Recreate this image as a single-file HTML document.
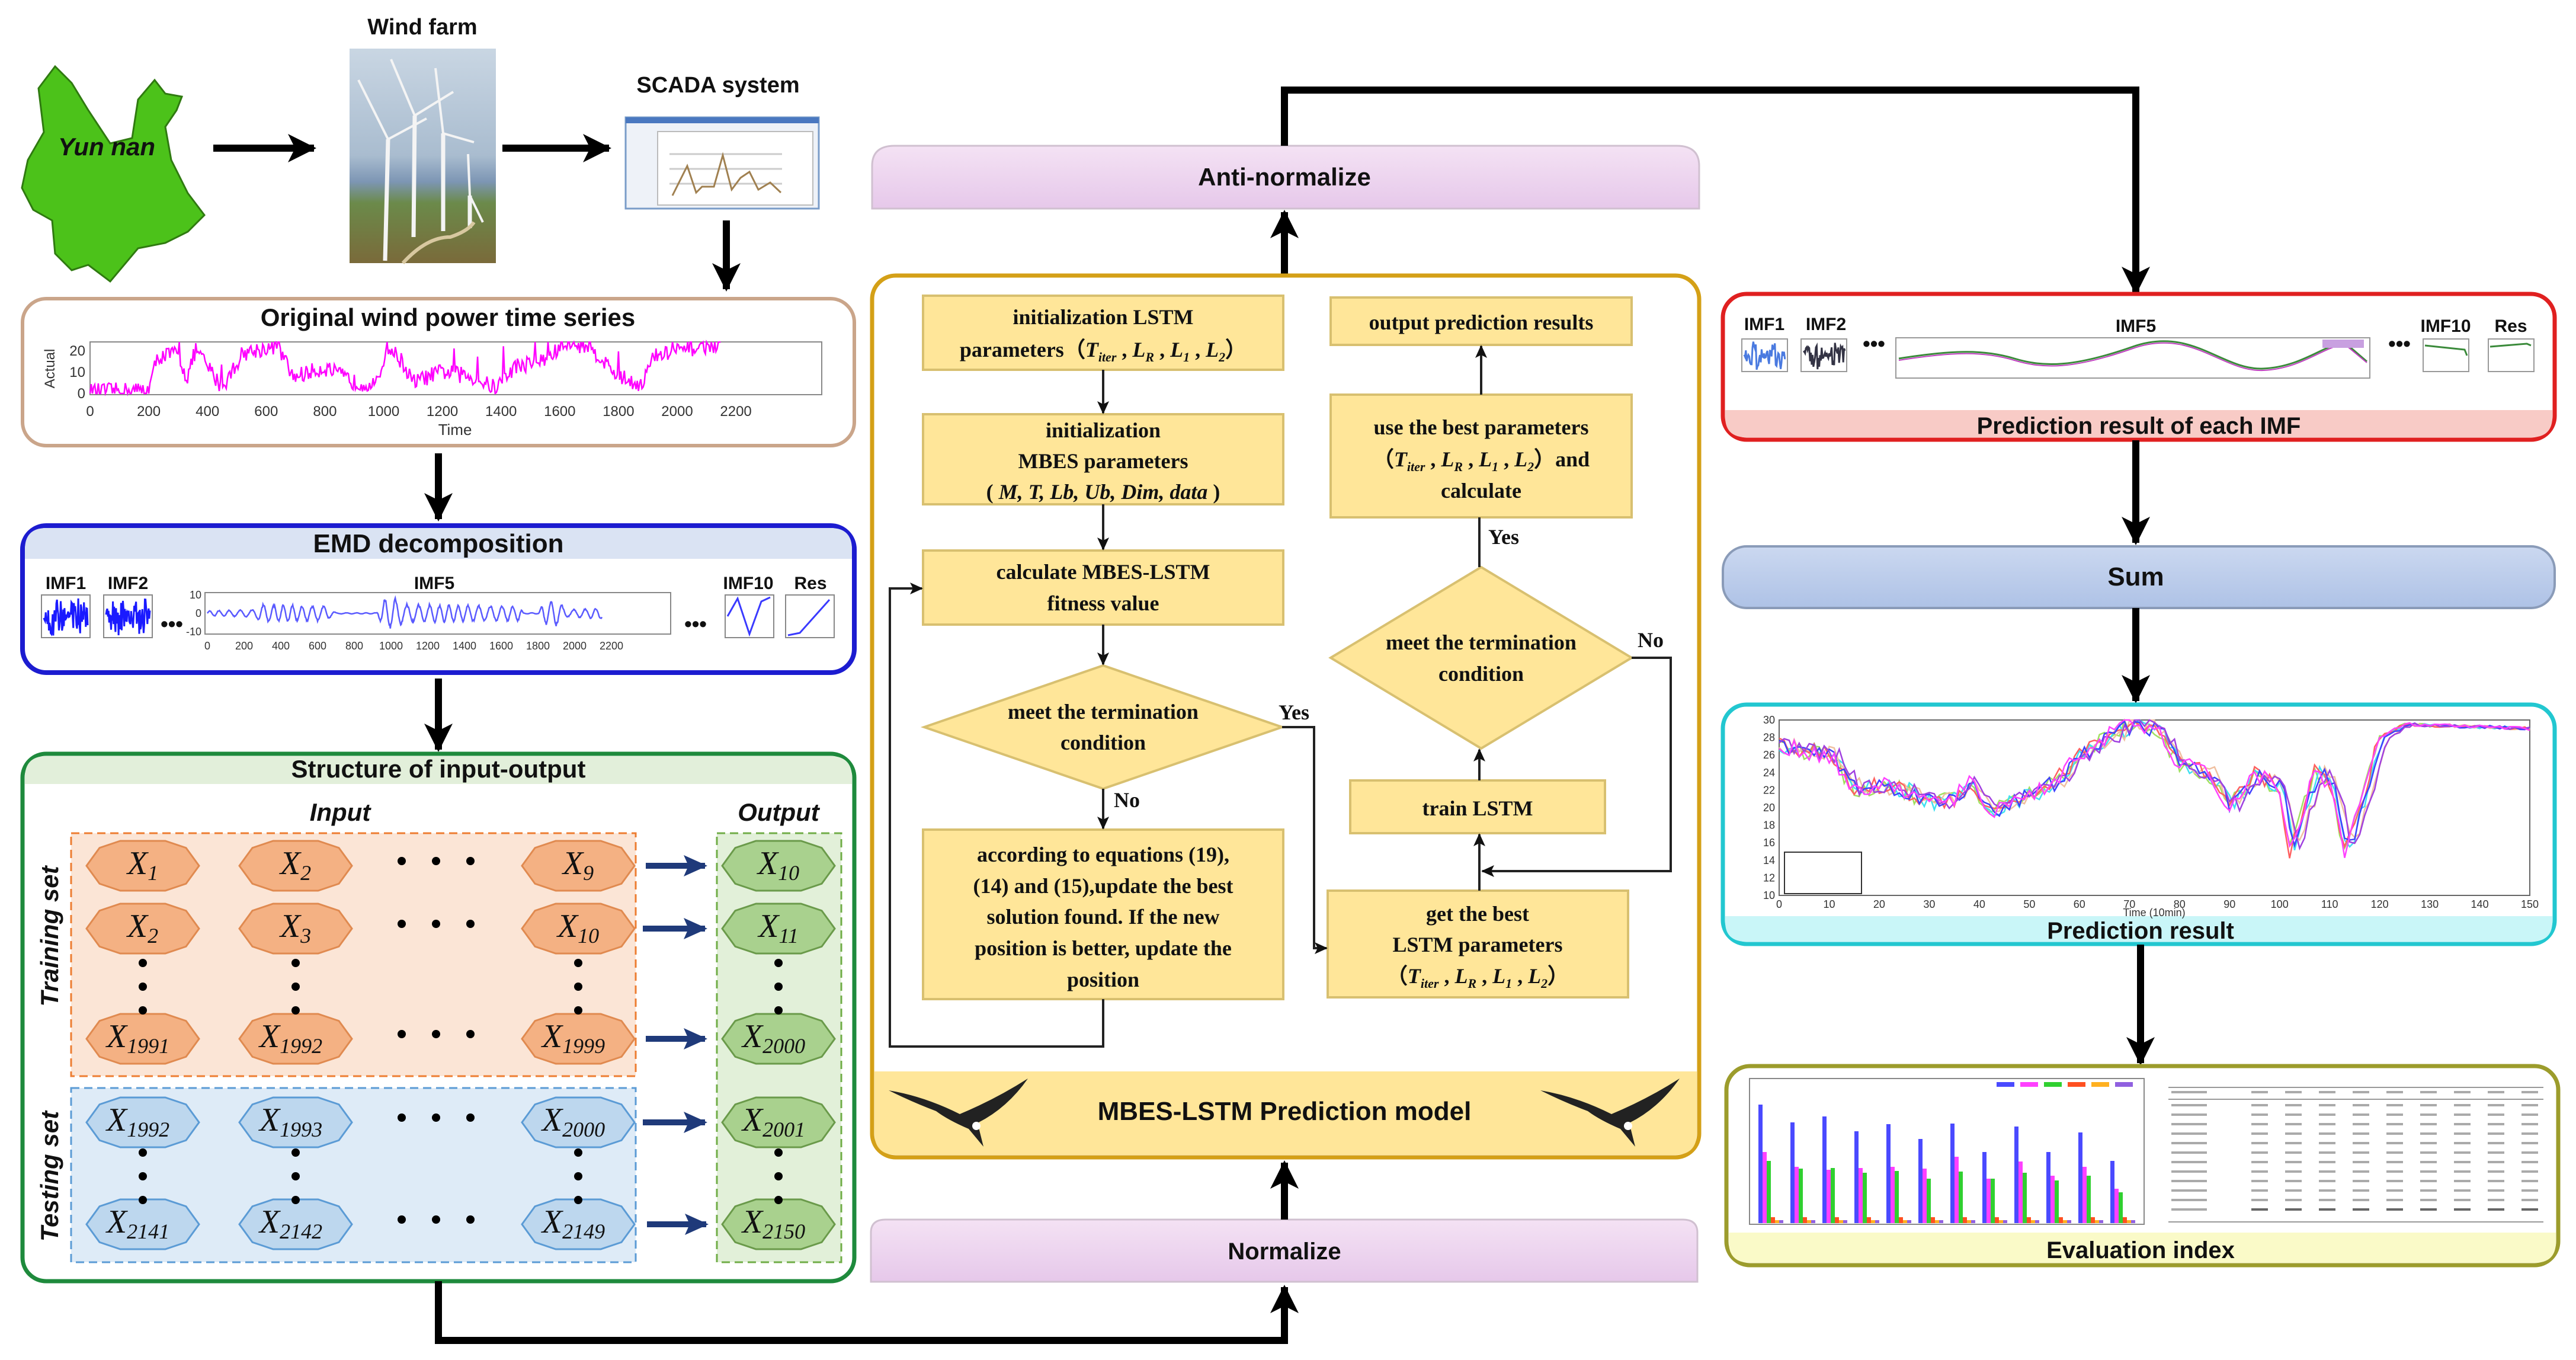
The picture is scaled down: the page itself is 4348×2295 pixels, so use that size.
<!DOCTYPE html>
<html><head><meta charset="utf-8"><style>
html,body{margin:0;padding:0;background:#fff;}
svg{display:block;}
.t{font-family:"Liberation Sans",sans-serif;font-weight:bold;fill:#111;}
.f{font-family:"Liberation Serif",serif;font-weight:bold;fill:#111;font-size:36px;}
.x{font-family:"Liberation Serif",serif;font-style:italic;fill:#111;}
.ax{font-family:"Liberation Sans",sans-serif;fill:#333;}
</style></head><body>
<svg id="s" width="4348" height="2295" viewBox="0 0 4348 2295" xmlns="http://www.w3.org/2000/svg">
<defs>
<marker id="A" markerUnits="userSpaceOnUse" markerWidth="60" markerHeight="60" refX="44" refY="24" orient="auto"><path d="M0,0 L48,24 L0,48 L12,24 Z" fill="#000"/></marker>
<marker id="a" markerUnits="userSpaceOnUse" markerWidth="24" markerHeight="24" refX="20" refY="10" orient="auto"><path d="M0,0 L22,10 L0,20 L5,10 Z" fill="#111"/></marker>
<marker id="B" markerUnits="userSpaceOnUse" markerWidth="50" markerHeight="50" refX="36" refY="18" orient="auto"><path d="M0,0 L40,18 L0,36 L8,18 Z" fill="#1f3a7a"/></marker>
<linearGradient id="sky" x1="0" y1="0" x2="0" y2="1"><stop offset="0" stop-color="#c9d6e3"/><stop offset="0.5" stop-color="#a9bccf"/><stop offset="0.62" stop-color="#7d96b4"/><stop offset="0.72" stop-color="#6b8a4a"/><stop offset="1" stop-color="#7a6a3a"/></linearGradient>
<linearGradient id="pk" x1="0" y1="0" x2="0" y2="1"><stop offset="0" stop-color="#f4e2f4"/><stop offset="1" stop-color="#e6c8ea"/></linearGradient>
<linearGradient id="bl" x1="0" y1="0" x2="0" y2="1"><stop offset="0" stop-color="#cbd8f0"/><stop offset="1" stop-color="#aec2e6"/></linearGradient>
</defs>

<polygon fill="#4cc21a" stroke="#2f7a10" stroke-width="3" points="93,112 121,140 149,186 186,242 223,233 233,168 261,135 279,158 307,163 298,186 279,214 289,270 317,326 345,363 317,391 279,410 233,419 186,475 149,447 121,456 93,428 88,372 56,354 37,317 47,270 74,223 65,149"/>
<text class="t" x="180" y="262" font-size="42" text-anchor="middle" font-style="italic">Yun nan</text>
<text class="t" x="713" y="58" font-size="38" text-anchor="middle">Wind farm</text>
<rect x="590" y="82" width="247" height="362" fill="url(#sky)"/>
<g stroke="#f4f4f4" stroke-width="7"><line x1="650" y1="440" x2="655" y2="235"/><line x1="698" y1="400" x2="700" y2="195"/><line x1="748" y1="390" x2="748" y2="225"/><line x1="793" y1="385" x2="793" y2="330"/></g>
<g stroke="#f4f4f4" stroke-width="4"><line x1="655" y1="235" x2="605" y2="135"/><line x1="655" y1="235" x2="720" y2="200"/><line x1="700" y1="195" x2="660" y2="100"/><line x1="700" y1="195" x2="765" y2="155"/><line x1="748" y1="225" x2="735" y2="115"/><line x1="748" y1="225" x2="800" y2="240"/><line x1="793" y1="330" x2="790" y2="260"/><line x1="793" y1="330" x2="815" y2="375"/></g>
<path d="M680,444 Q720,400 760,400 Q790,390 800,375" stroke="#d8c8a0" stroke-width="6" fill="none"/>
<text class="t" x="1212" y="156" font-size="38" text-anchor="middle">SCADA system</text>
<rect x="1056" y="198" width="326" height="154" fill="#eef2f8" stroke="#7a9cc8" stroke-width="3"/>
<rect x="1056" y="198" width="326" height="10" fill="#4a78c0"/>
<rect x="1110" y="222" width="262" height="124" fill="#fff" stroke="#bbb" stroke-width="2"/>
<g stroke="#ccc" stroke-width="3"><line x1="1130" y1="260" x2="1320" y2="260"/><line x1="1130" y1="285" x2="1320" y2="285"/><line x1="1130" y1="310" x2="1320" y2="310"/></g>
<polyline fill="none" stroke="#a08050" stroke-width="3" points="1135,330 1160,280 1175,325 1185,315 1205,315 1220,262 1235,320 1250,300 1265,290 1280,320 1300,308 1318,325"/>
<line x1="360" y1="250" x2="530" y2="250" stroke="#000" stroke-width="12" marker-end="url(#A)"/>
<line x1="848" y1="250" x2="1028" y2="250" stroke="#000" stroke-width="12" marker-end="url(#A)"/>
<line x1="1226" y1="372" x2="1226" y2="488" stroke="#000" stroke-width="12" marker-end="url(#A)"/>

<rect x="38" y="504" width="1404" height="248" rx="40" fill="#fff" stroke="#caa58a" stroke-width="6"/>
<text class="t" x="756" y="550" font-size="42" text-anchor="middle">Original wind power time series</text>
<rect x="152" y="577" width="1235" height="89" fill="#fff" stroke="#888" stroke-width="2"/>
<path id="orig" fill="none" stroke="#ff00ff" stroke-width="2.5"/>
<g class="ax" font-size="24" text-anchor="middle" id="origax"></g>
<text class="ax" x="768" y="734" font-size="26" text-anchor="middle">Time</text>
<text class="ax" x="0" y="0" font-size="24" text-anchor="middle" transform="translate(92,622) rotate(-90)">Actual</text>
<g class="ax" font-size="24" text-anchor="end"><text x="144" y="600">20</text><text x="144" y="636">10</text><text x="144" y="672">0</text></g>
<line x1="740" y1="765" x2="740" y2="876" stroke="#000" stroke-width="12" marker-end="url(#A)"/>

<rect x="38" y="887" width="1404" height="248" rx="40" fill="#fff" stroke="#1c1cd0" stroke-width="8"/>
<path d="M42,943 L42,927 Q42,891 78,891 L1402,891 Q1438,891 1438,927 L1438,943 Z" fill="#dae3f3"/>
<text class="t" x="740" y="932" font-size="44" text-anchor="middle">EMD decomposition</text>
<g class="t" font-size="30" text-anchor="middle"><text x="111" y="994">IMF1</text><text x="216" y="994">IMF2</text><text x="733" y="994">IMF5</text><text x="1263" y="994">IMF10</text><text x="1368" y="994">Res</text></g>
<text class="t" x="290" y="1065" font-size="36" text-anchor="middle">•••</text>
<text class="t" x="1174" y="1065" font-size="36" text-anchor="middle">•••</text>
<rect x="70" y="1004" width="82" height="72" fill="#fff" stroke="#888" stroke-width="2"/>
<rect x="175" y="1004" width="82" height="72" fill="#fff" stroke="#888" stroke-width="2"/>
<rect x="346" y="1000" width="786" height="70" fill="#fff" stroke="#888" stroke-width="2"/>
<rect x="1224" y="1004" width="82" height="72" fill="#fff" stroke="#888" stroke-width="2"/>
<rect x="1326" y="1004" width="82" height="72" fill="#fff" stroke="#888" stroke-width="2"/>
<path id="imf1" fill="none" stroke="#1a1aff" stroke-width="3"/>
<path id="imf2" fill="none" stroke="#1a1aff" stroke-width="3"/>
<path id="imf5" fill="none" stroke="#5a5aff" stroke-width="2.5"/>
<polyline fill="none" stroke="#3a3aff" stroke-width="3" points="1228,1040 1245,1010 1265,1070 1285,1015 1300,1008"/>
<polyline fill="none" stroke="#3a3aff" stroke-width="3" points="1330,1072 1350,1068 1400,1012"/>
<g class="ax" font-size="18" text-anchor="middle" id="imfax"></g>
<g class="ax" font-size="18" text-anchor="end"><text x="340" y="1010">10</text><text x="340" y="1041">0</text><text x="340" y="1072">-10</text></g>
<line x1="740" y1="1145" x2="740" y2="1265" stroke="#000" stroke-width="12" marker-end="url(#A)"/>

<rect x="38" y="1272" width="1404" height="890" rx="40" fill="#fff" stroke="#1e8a3c" stroke-width="7"/>
<path d="M42,1323 L42,1312 Q42,1276 78,1276 L1402,1276 Q1438,1276 1438,1312 L1438,1323 Z" fill="#e2efda"/>
<text class="t" x="740" y="1312" font-size="42" text-anchor="middle">Structure of input-output</text>
<text class="t" x="574" y="1385" font-size="42" text-anchor="middle" font-style="italic">Input</text>
<text class="t" x="1314" y="1385" font-size="42" text-anchor="middle" font-style="italic">Output</text>
<rect x="120" y="1406" width="953" height="410" fill="#fbe5d6" stroke="#ed7d31" stroke-width="3" stroke-dasharray="14,8"/>
<rect x="120" y="1836" width="953" height="294" fill="#deebf7" stroke="#5b9bd5" stroke-width="3" stroke-dasharray="14,8"/>
<rect x="1210" y="1406" width="210" height="724" fill="#e2f0d9" stroke="#70ad47" stroke-width="3" stroke-dasharray="14,8"/>
<text class="t" x="0" y="0" font-size="42" font-style="italic" text-anchor="middle" transform="translate(98,1580) rotate(-90)">Training set</text>
<text class="t" x="0" y="0" font-size="42" font-style="italic" text-anchor="middle" transform="translate(98,1985) rotate(-90)">Testing set</text>
<g id="nodes"></g>
<g stroke="#1f3a7a" stroke-width="10">
<line x1="1090" y1="1461" x2="1190" y2="1461" marker-end="url(#B)"/>
<line x1="1085" y1="1567" x2="1190" y2="1567" marker-end="url(#B)"/>
<line x1="1090" y1="1753" x2="1190" y2="1753" marker-end="url(#B)"/>
<line x1="1085" y1="1894" x2="1190" y2="1894" marker-end="url(#B)"/>
<line x1="1092" y1="2066" x2="1192" y2="2066" marker-end="url(#B)"/>
</g>
<polyline points="740,2162 740,2262 2168,2262 2168,2172" fill="none" stroke="#000" stroke-width="12" marker-end="url(#A)"/>

<path d="M1470,2163 L1470,2080 Q1470,2058 1495,2058 L2840,2058 Q2865,2058 2865,2080 L2865,2163 Z" fill="url(#pk)" stroke="#d0c0d0" stroke-width="3"/>
<text class="t" x="2168" y="2125" font-size="40" text-anchor="middle">Normalize</text>
<line x1="2168" y1="2058" x2="2168" y2="1962" stroke="#000" stroke-width="12" marker-end="url(#A)"/>
<path d="M1472,352 L1472,280 Q1472,246 1510,246 L2830,246 Q2868,246 2868,280 L2868,352 Z" fill="url(#pk)" stroke="#d0c0d0" stroke-width="3"/>
<text class="t" x="2168" y="313" font-size="42" text-anchor="middle">Anti-normalize</text>
<line x1="2168" y1="463" x2="2168" y2="358" stroke="#000" stroke-width="12" marker-end="url(#A)"/>
<polyline points="2168,246 2168,152 3605,152 3605,494" fill="none" stroke="#000" stroke-width="12" marker-end="url(#A)"/>

<rect x="1472" y="465" width="1396" height="1488" rx="40" fill="#fff" stroke="#d4a017" stroke-width="7"/>
<path d="M1476,1808 L2864,1808 L2864,1912 Q2864,1949 2826,1949 L1514,1949 Q1476,1949 1476,1912 Z" fill="#ffe699"/>
<text class="t" x="2168" y="1890" font-size="44" text-anchor="middle">MBES-LSTM Prediction model</text>
<g fill="#222">
<path d="M1500,1840 Q1560,1850 1620,1880 Q1680,1855 1735,1820 Q1700,1870 1650,1895 L1660,1935 L1635,1905 Q1600,1890 1580,1875 Q1540,1860 1500,1840 Z"/>
<path d="M2600,1840 Q2660,1850 2720,1880 Q2780,1855 2835,1820 Q2800,1870 2750,1895 L2760,1935 L2735,1905 Q2700,1890 2680,1875 Q2640,1860 2600,1840 Z"/>
</g>
<g fill="#fff"><circle cx="1648" cy="1900" r="7"/><circle cx="2748" cy="1900" r="7"/></g>

<g fill="#ffe699" stroke="#d8c070" stroke-width="4">
<rect x="1558" y="499" width="608" height="125"/>
<rect x="1558" y="699" width="608" height="152"/>
<rect x="1558" y="929" width="608" height="125"/>
<polygon points="1560,1227 1862,1123 2164,1227 1862,1331"/>
<rect x="1558" y="1400" width="608" height="286"/>
<rect x="2246" y="502" width="508" height="80"/>
<rect x="2246" y="666" width="508" height="207"/>
<polygon points="2246,1110 2500,957 2754,1110 2500,1263"/>
<rect x="2279" y="1317" width="430" height="89"/>
<rect x="2241" y="1503" width="507" height="180"/>
</g>
<g stroke="#222" stroke-width="4" fill="none">
<line x1="1862" y1="624" x2="1862" y2="697" marker-end="url(#a)"/>
<line x1="1862" y1="851" x2="1862" y2="927" marker-end="url(#a)"/>
<line x1="1862" y1="1054" x2="1862" y2="1121" marker-end="url(#a)"/>
<line x1="1862" y1="1331" x2="1862" y2="1398" marker-end="url(#a)"/>
<polyline points="1862,1686 1862,1766 1502,1766 1502,993 1556,993" marker-end="url(#a)"/>
<polyline points="2164,1227 2218,1227 2218,1600 2239,1600" marker-end="url(#a)"/>
<line x1="2500" y1="666" x2="2500" y2="584" marker-end="url(#a)"/>
<line x1="2497" y1="957" x2="2497" y2="873"/>
<line x1="2497" y1="1317" x2="2497" y2="1265" marker-end="url(#a)"/>
<line x1="2497" y1="1503" x2="2497" y2="1408" marker-end="url(#a)"/>
<polyline points="2754,1110 2820,1110 2820,1470 2502,1470" marker-end="url(#a)"/>
</g>
<g class="f" text-anchor="middle">
<text x="1862" y="547">initialization  LSTM</text>
<text x="1862" y="602">parameters（<tspan class="x">T</tspan><tspan class="x" font-size="22" dy="8">iter</tspan><tspan dy="-8"> , </tspan><tspan class="x">L</tspan><tspan class="x" font-size="22" dy="8">R</tspan><tspan dy="-8"> , </tspan><tspan class="x">L</tspan><tspan class="x" font-size="22" dy="8">1</tspan><tspan dy="-8"> , </tspan><tspan class="x">L</tspan><tspan class="x" font-size="22" dy="8">2</tspan><tspan dy="-8">）</tspan></text>
<text x="1862" y="738">initialization</text>
<text x="1862" y="790">MBES parameters</text>
<text x="1862" y="842">( <tspan class="x" font-weight="bold">M, T, Lb, Ub, Dim, data</tspan> )</text>
<text x="1862" y="977">calculate MBES-LSTM</text>
<text x="1862" y="1030">fitness value</text>
<text x="1862" y="1213">meet the termination</text>
<text x="1862" y="1265">condition</text>
<text x="1862" y="1454">according to equations (19),</text>
<text x="1862" y="1507">(14) and (15),update  the best</text>
<text x="1862" y="1559">solution found. If the new</text>
<text x="1862" y="1612">position is better, update the</text>
<text x="1862" y="1665">position</text>
<text x="2500" y="556">output prediction results</text>
<text x="2500" y="733">use the best parameters</text>
<text x="2500" y="787">（<tspan class="x">T</tspan><tspan class="x" font-size="22" dy="8">iter</tspan><tspan dy="-8"> , </tspan><tspan class="x">L</tspan><tspan class="x" font-size="22" dy="8">R</tspan><tspan dy="-8"> , </tspan><tspan class="x">L</tspan><tspan class="x" font-size="22" dy="8">1</tspan><tspan dy="-8"> , </tspan><tspan class="x">L</tspan><tspan class="x" font-size="22" dy="8">2</tspan><tspan dy="-8">）and</tspan></text>
<text x="2500" y="840">calculate</text>
<text x="2500" y="1096">meet the termination</text>
<text x="2500" y="1149">condition</text>
<text x="2494" y="1376">train LSTM</text>
<text x="2494" y="1554">get the best</text>
<text x="2494" y="1606">LSTM parameters</text>
<text x="2494" y="1659">（<tspan class="x">T</tspan><tspan class="x" font-size="22" dy="8">iter</tspan><tspan dy="-8"> , </tspan><tspan class="x">L</tspan><tspan class="x" font-size="22" dy="8">R</tspan><tspan dy="-8"> , </tspan><tspan class="x">L</tspan><tspan class="x" font-size="22" dy="8">1</tspan><tspan dy="-8"> , </tspan><tspan class="x">L</tspan><tspan class="x" font-size="22" dy="8">2</tspan><tspan dy="-8">）</tspan></text>
</g>
<g class="f" font-size="34">
<text x="1880" y="1362">No</text><text x="2158" y="1214">Yes</text><text x="2512" y="918">Yes</text><text x="2764" y="1092">No</text>
</g>

<rect x="2908" y="496" width="1404" height="246" rx="40" fill="#fff" stroke="#e02020" stroke-width="7"/>
<path d="M2912,692 L4308,692 L4308,704 Q4308,738 4272,738 L2948,738 Q2912,738 2912,704 Z" fill="#f8cbc6"/>
<text class="t" x="3610" y="732" font-size="40" text-anchor="middle">Prediction result of each IMF</text>
<g class="t" font-size="30" text-anchor="middle"><text x="2978" y="557">IMF1</text><text x="3082" y="557">IMF2</text><text x="3605" y="560">IMF5</text><text x="4128" y="560">IMF10</text><text x="4238" y="560">Res</text></g>
<text class="t" x="3163" y="592" font-size="36" text-anchor="middle">•••</text>
<text class="t" x="4050" y="592" font-size="36" text-anchor="middle">•••</text>
<rect x="2940" y="572" width="77" height="55" fill="#fff" stroke="#999" stroke-width="2"/>
<rect x="3040" y="572" width="77" height="55" fill="#fff" stroke="#999" stroke-width="2"/>
<rect x="3200" y="570" width="800" height="68" fill="#fff" stroke="#999" stroke-width="2"/>
<rect x="4090" y="572" width="77" height="55" fill="#fff" stroke="#999" stroke-width="2"/>
<rect x="4200" y="572" width="77" height="55" fill="#fff" stroke="#999" stroke-width="2"/>
<path id="p1" fill="none" stroke="#4a7ae0" stroke-width="3"/>
<path id="p2" fill="none" stroke="#334" stroke-width="3"/>
<path d="M3205,605 C3300,590 3350,590 3400,605 S3500,620 3600,585 S3750,625 3820,622 S3930,575 3960,580 L3995,610" fill="none" stroke="#3a8a3a" stroke-width="3"/>
<path d="M3205,608 C3300,593 3350,593 3400,608 S3500,623 3600,588 S3750,628 3820,625 S3930,578 3960,583 L3995,612" fill="none" stroke="#c040c0" stroke-width="2"/>
<rect x="3920" y="573" width="70" height="14" fill="#c8a0e0"/>
<polyline points="4093,583 4160,590 4164,600" fill="none" stroke="#3a8a3a" stroke-width="3"/>
<polyline points="4203,585 4265,580 4272,583" fill="none" stroke="#3a8a3a" stroke-width="3"/>
<line x1="3605" y1="743" x2="3605" y2="916" stroke="#000" stroke-width="12" marker-end="url(#A)"/>

<rect x="2908" y="922" width="1404" height="104" rx="40" fill="url(#bl)" stroke="#8a9bb8" stroke-width="4"/>
<text class="t" x="3605" y="988" font-size="44" text-anchor="middle">Sum</text>
<line x1="3605" y1="1026" x2="3605" y2="1183" stroke="#000" stroke-width="12" marker-end="url(#A)"/>

<rect x="2908" y="1189" width="1404" height="404" rx="40" fill="#fff" stroke="#22c7d0" stroke-width="7"/>
<path d="M2912,1546 L4308,1546 L4308,1556 Q4308,1589 4272,1589 L2948,1589 Q2912,1589 2912,1556 Z" fill="#c9f6f8"/>
<text class="t" x="3613" y="1584" font-size="40" text-anchor="middle">Prediction result</text>
<rect x="3003" y="1215" width="1267" height="296" fill="#fff" stroke="#666" stroke-width="2"/>
<g id="pred"></g>
<g class="ax" font-size="18" id="predax"></g>
<rect x="3012" y="1438" width="130" height="70" fill="#fff" stroke="#333" stroke-width="2"/>
<line x1="3613" y1="1594" x2="3613" y2="1794" stroke="#000" stroke-width="12" marker-end="url(#A)"/>

<rect x="2914" y="1799" width="1404" height="336" rx="40" fill="#fff" stroke="#9c9c2c" stroke-width="7"/>
<path d="M2918,2080 L4314,2080 L4314,2096 Q4314,2131 4278,2131 L2954,2131 Q2918,2131 2918,2096 Z" fill="#fafac8"/>
<text class="t" x="3613" y="2123" font-size="40" text-anchor="middle">Evaluation index</text>
<rect x="2953" y="1820" width="666" height="246" fill="#fff" stroke="#888" stroke-width="2"/>
<g id="bars"></g>
<g id="tbl"></g>
</svg>
<script>
(function(){
var S=document.getElementById('s'),NS='http://www.w3.org/2000/svg';
var seed=12345;function r(){seed=(seed*16807)%2147483647;return (seed-1)/2147483646;}
function el(t,a,p){var e=document.createElementNS(NS,t);for(var k in a)e.setAttribute(k,a[k]);(p||S).appendChild(e);return e;}
function txt(x,y,s,p,extra){var e=el('text',Object.assign({x:x,y:y},extra||{}),p);e.textContent=s;return e;}
var lv=[[0,1],[200,2],[230,20],[300,22],[330,8],[360,24],[450,3],[520,22],[640,26],[690,9],[800,14],[900,6],[980,5],[1010,26],[1060,18],[1100,6],[1200,12],[1300,9],[1380,3],[1450,15],[1550,18],[1620,27],[1700,26],[1800,9],[1880,5],[1920,20],[2000,23],[2100,26],[2150,27]];
var d='',j=0;for(var t=0;t<=2150;t+=4){while(j<lv.length-2&&lv[j+1][0]<t)j++;var a=lv[j],b=lv[j+1];var v=a[1]+(b[1]-a[1])*(t-a[0])/Math.max(1,b[0]-a[0])+(r()-0.5)*9;if(r()<0.02)v+=15;v=Math.max(0,Math.min(28,v));var X=152+t*0.4955,Y=664-v*3.1;d+=(t?'L':'M')+X.toFixed(1)+','+Y.toFixed(1);}
document.getElementById('orig').setAttribute('d',d);
var oa=document.getElementById('origax');for(var i=0;i<=11;i++)txt(152+i*99.1,702,String(i*200),oa);
var env=[[0,1.5],[250,2],[300,5],[650,4],[700,0.3],[920,0.3],[960,8],[1030,8],[1080,5],[1700,4],[1720,0.3],[1800,0.3],[1830,6],[1900,7],[1960,2],[2150,3]];
function envf(t){for(var i=0;i<env.length-1;i++)if(t<=env[i+1][0]){var a=env[i],b=env[i+1];return a[1]+(b[1]-a[1])*(t-a[0])/(b[0]-a[0]);}return 2;}
d='';for(var t=0;t<=2150;t+=3){var v=envf(t)*(0.7+0.3*r())*Math.sin(t/9+Math.sin(t/70));var X=350+t*0.31,Y=1035-v*3.3;d+=(t?'L':'M')+X.toFixed(1)+','+Y.toFixed(1);}
document.getElementById('imf5').setAttribute('d',d);
var ia=document.getElementById('imfax');for(var i=0;i<=11;i++)txt(350+i*62,1096,String(i*200),ia);
function noisy(id,x0,w,yc,A,n){var d='';for(var i=0;i<=n;i++){var X=x0+w*i/n,e=0.3+Math.abs(Math.sin(i/n*6));var Y=yc+(r()-0.5)*A*e;d+=(i?'L':'M')+X.toFixed(1)+','+Y.toFixed(1);}document.getElementById(id).setAttribute('d',d);}
noisy('imf1',74,74,1040,55,70);noisy('imf2',179,74,1040,55,70);
noisy('p1',2944,70,600,40,50);noisy('p2',3044,70,600,40,50);
var kp=[[0,27],[5,26.5],[10,26],[15,22],[20,22.5],[25,22],[30,20.5],[35,21],[38,23],[42,19.5],[45,20.5],[50,21.5],[55,23],[60,26],[65,28],[70,29.5],[75,29],[80,25],[85,24],[90,20],[95,24],[100,22],[102,15],[107,24],[110,23],[113,15],[117,22],[120,28],[125,29.5],[150,29]];
function base(t){for(var i=0;i<kp.length-1;i++)if(t<=kp[i+1][0]){var a=kp[i],b=kp[i+1];return a[1]+(b[1]-a[1])*(t-a[0])/(b[0]-a[0]);}return 29;}
var cols=['#a0e060','#40e0f0','#f0c0a0','#ff6060','#4040ff','#a040e0','#ff40ff'];var pg=document.getElementById('pred');
for(var c=0;c<7;c++){var d='',lag=c%3*0.8;for(var t=0;t<=150;t+=1){var v=base(Math.max(0,t-lag))+(r()-0.5)*(t<120?2:0.4);v=Math.max(10,Math.min(30,v));var X=3003+t*8.447,Y=1511-(v-10)*14.8;d+=(t?'L':'M')+X.toFixed(1)+','+Y.toFixed(1);}el('path',{d:d,fill:'none',stroke:cols[c],'stroke-width':2.5},pg);
el('line',{x1:3020,y1:1446+c*9,x2:3050,y2:1446+c*9,stroke:cols[c],'stroke-width':2},pg);}
var pa=document.getElementById('predax');for(var i=0;i<=15;i++)txt(3003+i*84.47,1532,String(i*10),pa,{'text-anchor':'middle'});
for(var i=0;i<=10;i++)txt(2996,1517-i*29.6,String(10+i*2),pa,{'text-anchor':'end'});
txt(3636,1546,'Time (10min)',pa,{'text-anchor':'middle'});
var bg=document.getElementById('bars');var bc=['#4a4aff','#ff40ff','#30d030','#ff5020','#ffb020','#9060e0'];
var hb=[[200,120,105],[170,95,92],[180,90,93],[155,93,85],[167,95,88],[142,92,75],[168,112,87],[120,75,75],[163,104,85],[120,80,72],[153,95,80],[105,58,52]];
for(var g=0;g<12;g++){var x=2968+g*54;for(var k=0;k<6;k++){var h=k<3?hb[g][k]:(k==3?10:5);el('rect',{x:x+k*7,y:2064-h,width:7,height:h,fill:bc[k]},bg);}}
for(var k=0;k<6;k++)el('rect',{x:3370+k*40,y:1826,width:30,height:8,fill:bc[k]},bg);
var tg=document.getElementById('tbl');el('line',{x1:3660,y1:1835,x2:4293,y2:1835,stroke:'#999','stroke-width':2},tg);el('line',{x1:3660,y1:1855,x2:4293,y2:1855,stroke:'#999','stroke-width':2},tg);el('line',{x1:3660,y1:2062,x2:4293,y2:2062,stroke:'#999','stroke-width':2},tg);
for(var row=0;row<13;row++){var y=1845+row*16+(row?6:0);el('rect',{x:3665,y:y-4,width:60,height:4,fill:'#aaa'},tg);for(var c=0;c<9;c++)el('rect',{x:3800+c*57,y:y-4,width:28,height:4,fill:row==12?'#666':'#aaa'},tg);}
var ng=document.getElementById('nodes');
function node(cx,cy,fill,stroke,sub){var w=190,h=84;var p=[[cx-w/2,cy],[cx-w/2+22,cy-h*0.36],[cx-w*0.2,cy-h/2],[cx+w*0.2,cy-h/2],[cx+w/2-22,cy-h*0.36],[cx+w/2,cy],[cx+w/2-22,cy+h*0.36],[cx+w*0.2,cy+h/2],[cx-w*0.2,cy+h/2],[cx-w/2+22,cy+h*0.36]];
el('polygon',{points:p.map(function(q){return q.join(',')}).join(' '),fill:fill,stroke:stroke,'stroke-width':3},ng);
var t=el('text',{x:cx-(sub.length>2?8:0),y:cy+14,'class':'x','font-size':56,'text-anchor':'middle'},ng);t.appendChild(document.createTextNode('X'));var s=el('tspan',{'font-size':36,dy:10},t);s.textContent=sub;}
var cx=[241,499,976],O=['#f4b183','#e08a50'],B=['#bdd7ee','#5b9bd5'],G=['#a9d18e','#6a9a4a'];
var rows=[[1461,['1','2','9'],'10',O],[1567,['2','3','10'],'11',O],[1753,['1991','1992','1999'],'2000',O],[1894,['1992','1993','2000'],'2001',B],[2066,['2141','2142','2149'],'2150',B]];
rows.forEach(function(rw){for(var i=0;i<3;i++)node(cx[i],rw[0],rw[3][0],rw[3][1],rw[1][i]);node(1314,rw[0],G[0],G[1],rw[2]);
[678,736,794].forEach(function(x){el('circle',{cx:x,cy:rw[0]-8,r:7,fill:'#000'},ng);});});
[[1625,1665,1705],[1945,1985,2025]].forEach(function(ys){[241,499,976,1314].forEach(function(x){ys.forEach(function(y){el('circle',{cx:x,cy:y,r:7,fill:'#000'},ng);});});});
})();
</script>
</body></html>
